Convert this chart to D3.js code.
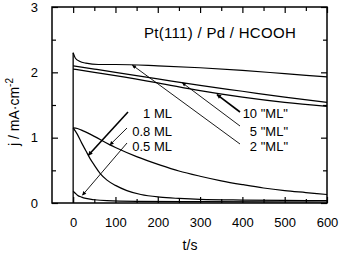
<!DOCTYPE html>
<html>
<head>
<meta charset="utf-8">
<script src="https://cdn.jsdelivr.net/npm/d3@7"></script>
<style>
  body { margin: 0; background: #fff; }
  text { font-family: "Liberation Sans", Arial, sans-serif; fill: #000; }
</style>
</head>
<body>
<div id="chart"></div>
<script>
// series (t in s, j in mA cm-2)
var t2ML  = [0, 5, 15, 30, 60, 100, 200, 300, 400, 500, 600];
var j2ML  = [2.3, 2.22, 2.17, 2.14, 2.12, 2.12, 2.1, 2.07, 2.03, 1.98, 1.93];
var t5ML  = [0, 50, 100, 200, 300, 400, 500, 600];
var j5ML  = [2.1, 2.05, 2.0, 1.9, 1.8, 1.71, 1.62, 1.54];
var t10ML = [0, 50, 100, 200, 300, 400, 500, 600];
var j10ML = [2.05, 2.0, 1.95, 1.84, 1.72, 1.62, 1.54, 1.48];
var t1ML  = [0, 10, 20, 30, 40, 50, 64, 80, 100, 127, 160, 205, 250, 300, 400, 500, 600];
var j1ML  = [1.15, 1.05, 0.92, 0.8, 0.68, 0.58, 0.45, 0.35, 0.27, 0.19, 0.13, 0.09, 0.07, 0.055, 0.045, 0.04, 0.035];
var t08ML = [0, 10, 25, 50, 87, 100, 150, 206, 250, 300, 350, 402, 450, 500, 550, 600];
var j08ML = [1.15, 1.14, 1.1, 1.02, 0.89, 0.85, 0.71, 0.58, 0.49, 0.41, 0.34, 0.28, 0.23, 0.19, 0.16, 0.13];
var t05ML = [0, 5, 10, 20, 30, 50, 80, 150, 300, 600];
var j05ML = [0.18, 0.15, 0.12, 0.09, 0.07, 0.05, 0.035, 0.025, 0.02, 0.015];

var xMajor = [0, 100, 200, 300, 400, 500, 600];
var xMinor = [50, 150, 250, 350, 450, 550];
var yMajor = [0, 1, 2, 3];
var yMinor = [0.5, 1.5, 2.5];

// labels: text, point (t, j) the arrow points to, text position, arrow start
var labels = [
  { txt: "1 ML",     at: [36, 0.73],  tx: 172, ty: 118, ax: 128, ay: 112, thick: true },
  { txt: "0.8 ML",   at: [87, 0.89],  tx: 172, ty: 136, ax: 127, ay: 128, thick: false },
  { txt: "0.5 ML",   at: [22, 0.12],  tx: 172, ty: 151, ax: 127, ay: 143, thick: false },
  { txt: "10 \"ML\"", at: [340, 1.66], tx: 288, ty: 118, ax: 240, ay: 112, thick: true },
  { txt: "5 \"ML\"",  at: [258, 1.84], tx: 288, ty: 136, ax: 240, ay: 126, thick: false },
  { txt: "2 \"ML\"",  at: [140, 2.11], tx: 288, ty: 151, ax: 240, ay: 144, thick: false }
];

var W = 340, H = 254;
var svg = d3.select("#chart").append("svg")
  .attr("width", W).attr("height", H);

var x = d3.scaleLinear().domain([-50, 600]).range([52, 327]);
var y = d3.scaleLinear().domain([0, 3]).range([203, 7]);

// arrow heads
var defs = svg.append("defs");
[["thin", 6, 4], ["thick", 6, 4.5]].forEach(function (m) {
  defs.append("marker")
    .attr("id", "arr-" + m[0])
    .attr("markerUnits", "userSpaceOnUse")
    .attr("viewBox", "0 0 10 10")
    .attr("refX", 9).attr("refY", 5)
    .attr("markerWidth", m[1]).attr("markerHeight", m[2])
    .attr("orient", "auto")
    .append("path").attr("d", "M0,0L10,5L0,10Z").attr("fill", "#000");
});

// axes with inward ticks
function noDomain(g) { g.select(".domain").remove(); }

svg.append("g").attr("transform", "translate(0,203)")
  .call(d3.axisBottom(x).tickValues(xMajor).tickSize(-6).tickPadding(15))
  .call(noDomain)
  .selectAll("text").style("font-size", "13px").style("font-family", "Liberation Sans, Arial, sans-serif");
svg.append("g").attr("transform", "translate(0,203)")
  .call(d3.axisBottom(x).tickValues(xMinor).tickSize(-4).tickFormat(""))
  .call(noDomain);
svg.append("g").attr("transform", "translate(0,7)")
  .call(d3.axisTop(x).tickValues(xMajor).tickSize(-6).tickFormat(""))
  .call(noDomain);
svg.append("g").attr("transform", "translate(0,7)")
  .call(d3.axisTop(x).tickValues(xMinor).tickSize(-4).tickFormat(""))
  .call(noDomain);

svg.append("g").attr("transform", "translate(52,0)")
  .call(d3.axisLeft(y).tickValues(yMajor).tickSize(-6).tickPadding(14).tickFormat(d3.format("d")))
  .call(noDomain)
  .selectAll("text").style("font-size", "13px").style("font-family", "Liberation Sans, Arial, sans-serif");
svg.append("g").attr("transform", "translate(52,0)")
  .call(d3.axisLeft(y).tickValues(yMinor).tickSize(-4).tickFormat(""))
  .call(noDomain);
svg.append("g").attr("transform", "translate(327,0)")
  .call(d3.axisRight(y).tickValues(yMajor).tickSize(-6).tickFormat(""))
  .call(noDomain);
svg.append("g").attr("transform", "translate(327,0)")
  .call(d3.axisRight(y).tickValues(yMinor).tickSize(-4).tickFormat(""))
  .call(noDomain);

svg.selectAll(".tick line").attr("stroke", "#000").attr("stroke-width", 1.2);

// frame
svg.append("rect")
  .attr("x", x(-50)).attr("y", y(3))
  .attr("width", x(600) - x(-50)).attr("height", y(0) - y(3))
  .attr("fill", "none").attr("stroke", "#000").attr("stroke-width", 1.5);

// curves
var line = d3.line()
  .x(function (d) { return x(d[0]); })
  .y(function (d) { return y(d[1]); })
  .curve(d3.curveMonotoneX);

var series = [
  [t2ML, j2ML], [t5ML, j5ML], [t10ML, j10ML],
  [t1ML, j1ML], [t08ML, j08ML], [t05ML, j05ML]
];
series.forEach(function (s) {
  var pts = s[0].map(function (t, i) { return [t, s[1][i]]; });
  svg.append("path")
    .attr("d", line(pts))
    .attr("fill", "none").attr("stroke", "#000").attr("stroke-width", 1.2);
});

// potential step: vertical jump at t = 0
svg.append("line")
  .attr("x1", x(0)).attr("x2", x(0))
  .attr("y1", y(0)).attr("y2", y(d3.max(series, function (s) { return s[1][0]; })))
  .attr("stroke", "#000").attr("stroke-width", 1.3);

// labels with arrows
labels.forEach(function (l) {
  svg.append("line")
    .attr("x1", l.ax).attr("y1", l.ay)
    .attr("x2", x(l.at[0])).attr("y2", y(l.at[1]))
    .attr("stroke", "#000")
    .attr("stroke-width", l.thick ? 1.6 : 0.9)
    .attr("marker-end", l.thick ? "url(#arr-thick)" : "url(#arr-thin)");
  svg.append("text")
    .attr("x", l.tx).attr("y", l.ty)
    .attr("text-anchor", "end")
    .style("font-size", "13px")
    .text(l.txt);
});

// title
svg.append("text")
  .attr("x", 220).attr("y", 38)
  .attr("text-anchor", "middle")
  .style("font-size", "15px")
  .style("letter-spacing", "0.3px")
  .text("Pt(111) / Pd / HCOOH");

// axis titles
svg.append("text")
  .attr("x", 190).attr("y", 250)
  .attr("text-anchor", "middle")
  .style("font-size", "14px")
  .text("t/s");

var yl = svg.append("text")
  .attr("transform", "translate(19,112) rotate(-90)")
  .attr("text-anchor", "middle")
  .style("font-size", "14px");
yl.append("tspan").text("j / mA\u00b7cm");
yl.append("tspan").attr("dy", "-6").style("font-size", "10px").text("-2");
</script>
</body>
</html>
